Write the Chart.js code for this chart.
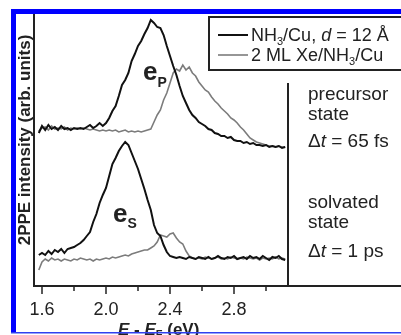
<!DOCTYPE html>
<html>
<head>
<meta charset="utf-8">
<script src="https://cdn.jsdelivr.net/npm/chart.js@4.4.1/dist/chart.umd.min.js"></script>
<style>
  html, body { margin: 0; padding: 0; background: #fff; }
  canvas { display: block; }
</style>
</head>
<body>
<canvas id="spectra" width="401" height="335"></canvas>
<script>
// 2PPE spectra, energy axis in eV (E - E_F)
const energy = [
  1.58, 1.60, 1.62, 1.64, 1.66, 1.68, 1.70, 1.72, 1.74, 1.76,
  1.78, 1.80, 1.82, 1.84, 1.86, 1.88, 1.90, 1.92, 1.94, 1.96,
  1.98, 2.00, 2.02, 2.04, 2.06, 2.08, 2.10, 2.12, 2.14, 2.16,
  2.18, 2.20, 2.22, 2.24, 2.26, 2.28, 2.30, 2.32, 2.34, 2.36,
  2.38, 2.40, 2.42, 2.44, 2.46, 2.48, 2.50, 2.52, 2.54, 2.56,
  2.58, 2.60, 2.62, 2.64, 2.66, 2.68, 2.70, 2.72, 2.74, 2.76,
  2.78, 2.80, 2.82, 2.84, 2.86, 2.88, 2.90, 2.92, 2.94, 2.96,
  2.98, 3.00, 3.02, 3.04, 3.06, 3.08, 3.10, 3.12
];

// precursor state, dt = 65 fs (offset upwards)
const precursorNH3 = [
  153, 160, 156, 161, 157, 159, 156, 160, 157, 158,
  156, 158, 157, 158, 157, 159, 161, 158, 160, 163,
  160, 163, 168, 175, 180, 190, 201, 206, 213, 225,
  232, 240, 245, 252, 258, 266, 263, 259, 258, 251,
  240, 230, 220, 211, 200, 190, 183, 176, 171, 168,
  164, 162, 160, 157, 156, 153, 152, 150, 150, 148,
  149, 146, 145, 145, 143, 144, 142, 143, 141, 141,
  140, 141, 139, 140, 139, 140, 138, 139
];
const precursorXe = [
  155, 158, 159, 156, 160, 157, 158, 157, 159, 156,
  158, 157, 158, 157, 158, 157, 156, 157, 156, 155,
  156, 155, 156, 155, 156, 154, 155, 156, 154, 155,
  154, 155, 154, 155, 156, 157, 164, 171, 176, 186,
  193, 203, 213, 217, 215, 221, 216, 219, 213, 210,
  204, 200, 196, 194, 189, 185, 182, 178, 175, 172,
  168, 166, 163, 159, 156, 152, 148, 146, 144, 143,
  142, 141, 140, 140, 139, 140, 139, 139
];

// solvated state, dt = 1 ps
const solvatedNH3 = [
  31, 33, 31, 35, 32, 36, 34, 37, 33, 37,
  38, 39, 41, 43, 46, 50, 54, 64, 72, 83,
  91, 98, 110, 122, 128, 135, 140, 144, 141, 133,
  125, 117, 107, 97, 86, 76, 61, 53, 50, 41,
  34, 30, 29, 28, 29, 28, 27, 29, 28, 27,
  29, 28, 27, 29, 27, 28, 30, 28, 27, 29,
  28, 30, 27, 28, 29, 27, 30, 28, 29, 27,
  30, 28, 26, 29, 28, 30, 27, 26
];
const solvatedXe = [
  16, 24, 27, 25, 28, 26, 27, 25, 27, 26,
  25, 27, 26, 28, 27, 26, 27, 25, 27, 26,
  27, 28, 27, 29, 28, 29, 30, 31, 30, 32,
  33, 34, 35, 36, 36, 38, 40, 44, 51, 50,
  49, 52, 53, 48, 44, 42, 35, 30, 28, 27,
  28, 27, 29, 28, 27, 28, 29, 27, 28, 27,
  29, 28, 27, 28, 27, 29, 28, 27, 28, 26,
  28, 27, 28, 27, 29, 27, 28, 27
];

const tickValues = [1.6, 1.8, 2.0, 2.2, 2.4, 2.6, 2.8, 3.0];
const tickLabels = ['1.6', '', '2.0', '', '2.4', '', '2.8', ''];

const FONT = '"Liberation Sans", Arial, Helvetica, sans-serif';
const INK = '#222';
const GRAY = '#7c7c7c';

const toPoints = vals => vals.map((v, i) => ({ x: energy[i], y: v }));

function rich(ctx, x, y, parts) {
  parts.forEach(p => {
    ctx.font = p.font;
    ctx.fillText(p.text, x, y + (p.dy || 0));
    x += ctx.measureText(p.text).width;
  });
}

const decor = {
  id: 'decor',
  afterDraw(chart) {
    const { ctx, chartArea, scales: { x, y } } = chart;
    ctx.save();
    ctx.fillStyle = INK;
    ctx.strokeStyle = INK;

    // x ticks, long ones carry labels
    ctx.lineWidth = 1.5;
    tickValues.forEach((v, i) => {
      const px = x.getPixelForValue(v);
      const len = tickLabels[i] ? 8 : 5;
      ctx.beginPath();
      ctx.moveTo(px, chartArea.bottom);
      ctx.lineTo(px, chartArea.bottom + len);
      ctx.stroke();
    });

    // divider between data and the state notes
    const dx = x.getPixelForValue(3.1375);
    ctx.lineWidth = 2;
    ctx.beginPath();
    ctx.moveTo(dx, y.getPixelForValue(203));
    ctx.lineTo(dx, chartArea.bottom);
    ctx.stroke();

    // state notes
    const r = '19px ' + FONT, ri = 'italic 19px ' + FONT;
    ctx.textAlign = 'left';
    ctx.textBaseline = 'alphabetic';
    ctx.font = r;
    ctx.fillText('precursor', dx + 20, 100);
    ctx.fillText('state', dx + 20, 120);
    rich(ctx, dx + 20, 147, [{ text: 'Δ', font: r }, { text: 't', font: ri }, { text: ' = 65 fs', font: r }]);
    ctx.font = r;
    ctx.fillText('solvated', dx + 20, 208);
    ctx.fillText('state', dx + 20, 228);
    rich(ctx, dx + 20, 257, [{ text: 'Δ', font: r }, { text: 't', font: ri }, { text: ' = 1 ps', font: r }]);

    // peak labels
    const eb = 'bold 26px ' + FONT, sb = 'bold 14px ' + FONT;
    rich(ctx, x.getPixelForValue(2.231), y.getPixelForValue(206), [{ text: 'e', font: eb }, { text: 'P', font: sb, dy: 7 }]);
    rich(ctx, x.getPixelForValue(2.044), y.getPixelForValue(64), [{ text: 'e', font: eb }, { text: 'S', font: sb, dy: 6 }]);

    // legend box
    ctx.lineWidth = 2;
    ctx.fillStyle = '#fff';
    ctx.fillRect(209, 17, 220, 53);
    ctx.strokeRect(209, 17, 220, 53);
    ctx.lineWidth = 2;
    ctx.strokeStyle = '#111';
    ctx.beginPath(); ctx.moveTo(218, 35); ctx.lineTo(248, 35); ctx.stroke();
    ctx.strokeStyle = GRAY;
    ctx.lineWidth = 1.6;
    ctx.beginPath(); ctx.moveTo(218, 55); ctx.lineTo(248, 55); ctx.stroke();
    ctx.fillStyle = INK;
    const lf = '18px ' + FONT, lfi = 'italic 18px ' + FONT, ls = '11px ' + FONT;
    rich(ctx, 251, 41, [{ text: 'NH', font: lf }, { text: '3', font: ls, dy: 4 }, { text: '/Cu, ', font: lf },
      { text: 'd', font: lfi }, { text: ' = 12 Å', font: lf }]);
    rich(ctx, 251, 61, [{ text: '2 ML Xe/NH', font: lf }, { text: '3', font: ls, dy: 4 }, { text: '/Cu', font: lf }]);

    // axis titles
    ctx.save();
    ctx.translate(25, 140);
    ctx.rotate(-Math.PI / 2);
    ctx.textAlign = 'center';
    ctx.textBaseline = 'middle';
    ctx.font = 'bold 17px ' + FONT;
    ctx.fillText('2PPE intensity (arb. units)', 0, 0);
    ctx.restore();
    const xb = 'bold 17px ' + FONT, xbi = 'bold italic 17px ' + FONT, xs = 'bold 11px ' + FONT;
    rich(ctx, 118, 335, [{ text: 'E', font: xbi }, { text: ' - ', font: xb }, { text: 'E', font: xbi },
      { text: 'F', font: xs, dy: 3 }, { text: ' (eV)', font: xb }]);

    // blue frame around the figure
    ctx.fillStyle = '#0000ff';
    ctx.fillRect(11, 9, 390, 5);
    ctx.fillRect(11, 9, 5, 324);
    ctx.fillStyle = '#3040f0';
    ctx.fillRect(11, 332, 390, 1.5);
    ctx.restore();
  }
};

new Chart(document.getElementById('spectra'), {
  type: 'line',
  data: {
    datasets: [
      { label: 'NH3/Cu precursor', data: toPoints(precursorNH3), borderColor: '#111', borderWidth: 2 },
      { label: 'NH3/Cu solvated', data: toPoints(solvatedNH3), borderColor: '#111', borderWidth: 2 },
      { label: 'Xe/NH3/Cu precursor', data: toPoints(precursorXe), borderColor: GRAY, borderWidth: 1.6 },
      { label: 'Xe/NH3/Cu solvated', data: toPoints(solvatedXe), borderColor: GRAY, borderWidth: 1.6 },
    ],
  },
  options: {
    responsive: false,
    animation: false,
    devicePixelRatio: 1,
    layout: { padding: { top: 15, left: 0, right: 0, bottom: 0 } },
    elements: { point: { radius: 0 }, line: { tension: 0 } },
    plugins: { legend: { display: false }, tooltip: { enabled: false } },
    scales: {
      x: {
        type: 'linear',
        min: 1.55,
        max: 3.84375,
        afterBuildTicks: s => { s.ticks = tickValues.map(v => ({ value: v })); },
        afterFit: s => { s.height = 49; },
        ticks: {
          autoSkip: false,
          maxRotation: 0,
          padding: 5,
          color: INK,
          font: { family: FONT, size: 18 },
          callback: (v, i) => tickLabels[i],
        },
        grid: { drawOnChartArea: false, drawTicks: true, tickLength: 8, tickColor: 'rgba(0,0,0,0)' },
        border: { color: INK, width: 2 },
      },
      y: {
        min: 0,
        max: 271,
        afterFit: s => { s.width = 34; },
        ticks: { display: false },
        grid: { display: false },
        border: { color: INK, width: 2 },
      },
    },
  },
  plugins: [decor],
});
</script>
</body>
</html>
